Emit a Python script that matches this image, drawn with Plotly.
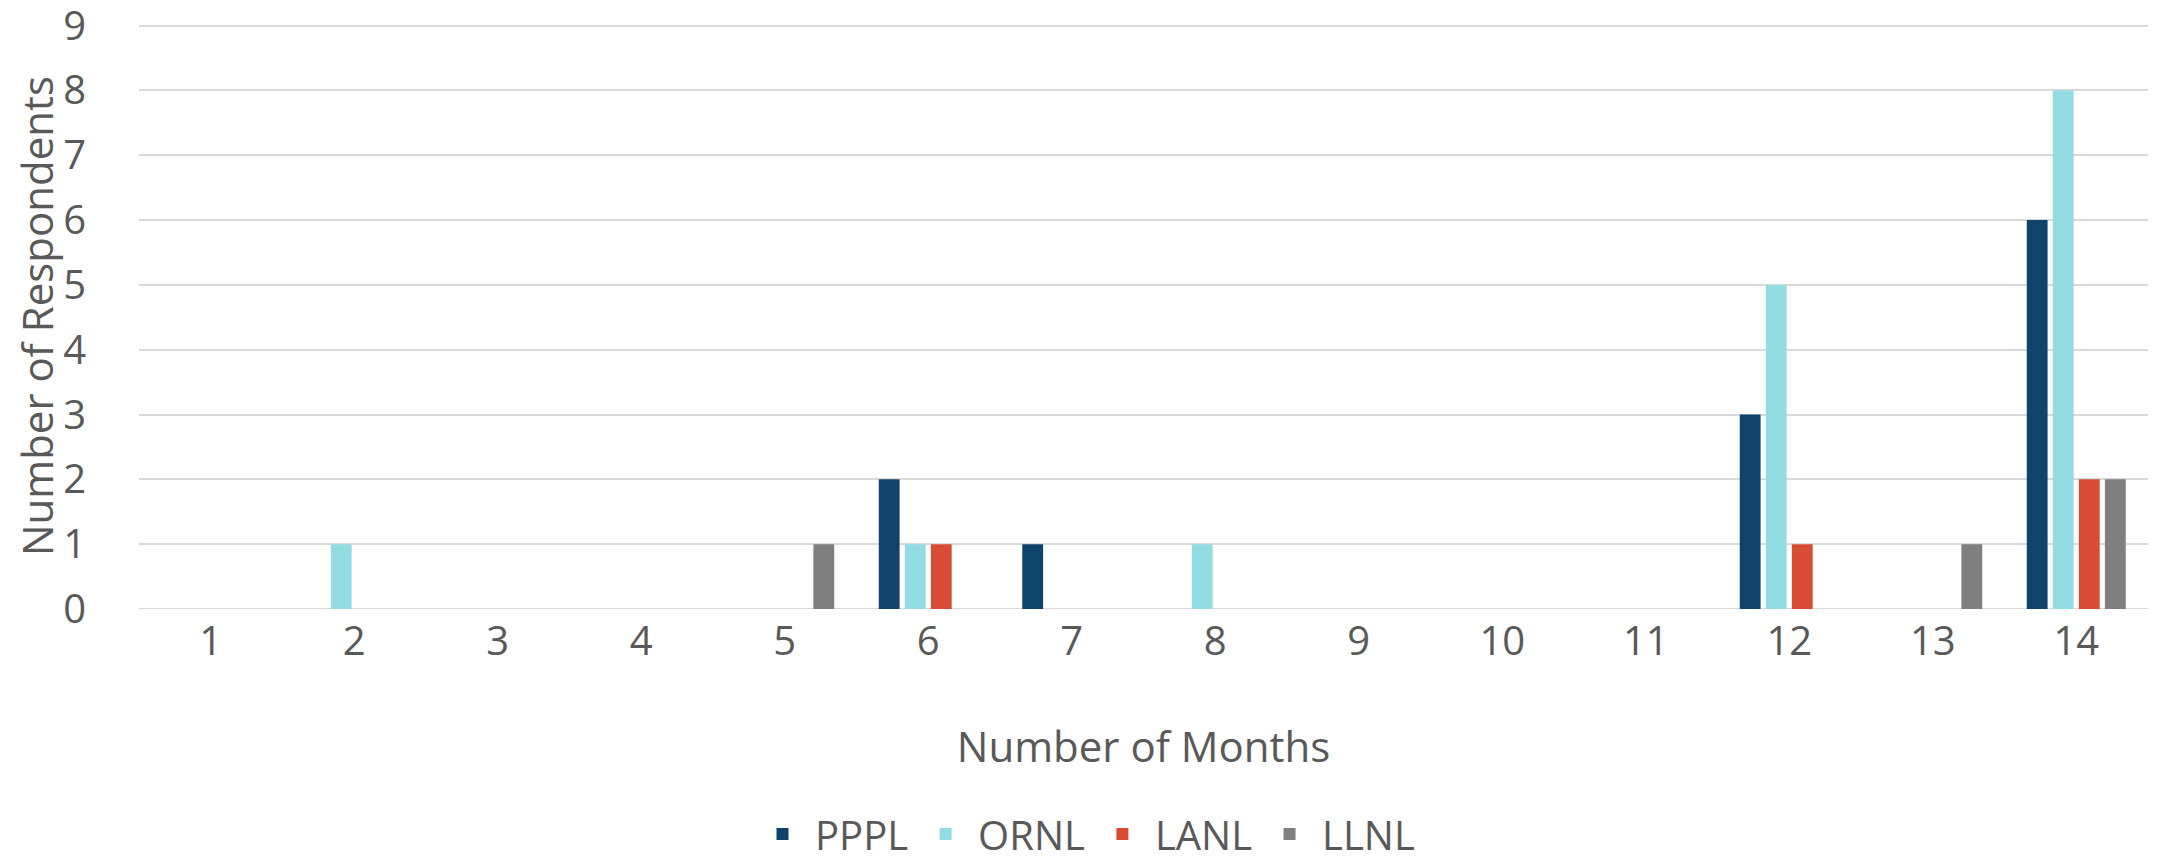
import plotly.graph_objects as go

months = list(range(1, 15))
series_names = ["PPPL", "ORNL", "LANL", "LLNL"]
pppl = [0, 0, 0, 0, 0, 2, 1, 0, 0, 0, 0, 3, 0, 6]
ornl = [0, 1, 0, 0, 0, 1, 0, 1, 0, 0, 0, 5, 0, 8]
lanl = [0, 0, 0, 0, 0, 1, 0, 0, 0, 0, 0, 1, 0, 2]
llnl = [0, 0, 0, 0, 1, 0, 0, 0, 0, 0, 0, 0, 1, 2]
colors = ["#10436A", "#94DCE4", "#D84B34", "#7F7F7F"]
y_ticks = list(range(0, 10))

FONT = "Open Sans"
TXT = "#595959"

fig = go.Figure()
for name, vals, col in zip(series_names, [pppl, ornl, lanl, llnl], colors):
    fig.add_trace(go.Bar(x=months, y=vals, name=name, marker=dict(color=col, line=dict(width=0))))

fig.update_layout(
    width=2154, height=863,
    paper_bgcolor="white", plot_bgcolor="white",
    barmode="group", bargap=0.274, bargroupgap=0.2,
    margin=dict(l=131, r=14, t=15, b=262, autoexpand=False),
    font=dict(family=FONT, color=TXT, size=40),
    showlegend=True,
    legend=dict(orientation="h", xref="container", x=0.5, xanchor="center",
                y=-0.384, yanchor="middle",
                font=dict(size=40, color=TXT), itemwidth=55, traceorder="normal"),
)
fig.update_xaxes(
    range=[0.5, 14.5], tickmode="array", tickvals=months, ticktext=[str(m) for m in months],
    showgrid=False, zeroline=False, showline=False, ticks="", automargin=False,
    tickfont=dict(size=40, color=TXT), ticklabelstandoff=5, ticklabeloverflow="allow",
    title=dict(text="Number of Months", font=dict(size=42, color=TXT), standoff=66),
)
fig.update_yaxes(
    range=[0, 9.04], tickmode="array", tickvals=y_ticks, automargin=False,
    showgrid=True, gridcolor="#D9D9D9", gridwidth=2, zeroline=False,
    showline=False, ticks="", tickfont=dict(size=40, color=TXT), ticklabelstandoff=52,
    ticklabeloverflow="allow",
    title=dict(text="Number of Respondents", font=dict(size=42, color=TXT), standoff=16),
)
# baseline
fig.add_hline(y=0, line=dict(color="#D9D9D9", width=2), layer="below")

fig.write_html("out.html")
